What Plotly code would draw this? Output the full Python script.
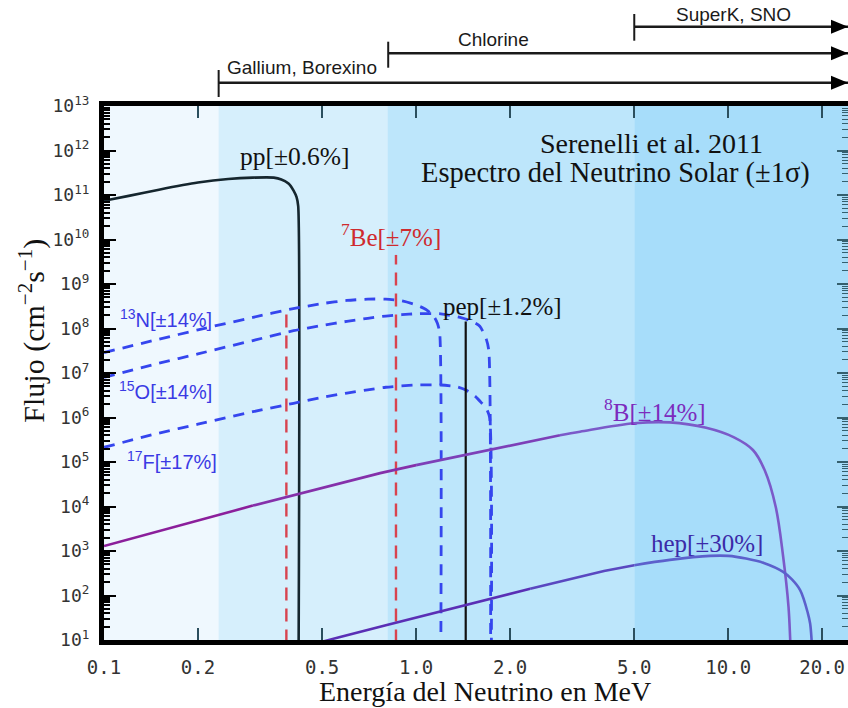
import plotly.graph_objects as go

# ---------------- data ----------------
# continuous spectra: energy (MeV) and log10 of flux
pp_E = [0.1, 0.12, 0.15, 0.2, 0.25, 0.3, 0.35, 0.37, 0.39, 0.405, 0.414, 0.419, 0.4199]
pp_logF = [10.87, 10.98, 11.12, 11.28, 11.36, 11.39, 11.39, 11.35, 11.26, 11.10, 10.95, 10.75, 0.0]

n13_E = [0.1, 0.15, 0.2, 0.3, 0.4, 0.5, 0.6, 0.7, 0.8, 0.9, 1.0, 1.08, 1.14, 1.17, 1.19, 1.199]
n13_logF = [7.46, 7.76, 7.97, 8.25, 8.44, 8.56, 8.63, 8.66, 8.66, 8.62, 8.53, 8.42, 8.27, 8.12, 7.9, 0.0]

o15_E = [0.1, 0.15, 0.2, 0.3, 0.405, 0.5, 0.6, 0.7, 0.8, 0.9, 1.0, 1.2, 1.4, 1.5, 1.6, 1.68, 1.71, 1.732]
o15_logF = [6.90, 7.22, 7.43, 7.73, 7.95, 8.07, 8.16, 8.23, 8.28, 8.31, 8.33, 8.33, 8.24, 8.17, 8.05, 7.75, 7.5, 0.0]

f17_E = [0.1, 0.15, 0.2, 0.3, 0.405, 0.5, 0.6, 0.7, 0.8, 1.0, 1.2, 1.35, 1.45, 1.55, 1.62, 1.68, 1.72, 1.74]
f17_logF = [5.33, 5.65, 5.85, 6.13, 6.32, 6.45, 6.55, 6.62, 6.68, 6.73, 6.73, 6.69, 6.61, 6.47, 6.33, 6.2, 6.0, 0.0]

b8_E = [0.1, 0.15, 0.2, 0.3, 0.5, 0.767, 1.0, 1.5, 2.0, 2.89, 3.35, 5.0, 6.5, 8.5, 10.4, 12.0, 13.1, 14.2, 15.0, 15.6, 15.8, 16.0]
b8_logF = [3.11, 3.44, 3.68, 4.02, 4.41, 4.75, 4.93, 5.18, 5.37, 5.60, 5.68, 5.87, 5.89, 5.77, 5.56, 5.27, 4.81, 3.99, 2.87, 1.75, 1.0, 0.0]

hep_E = [0.5, 0.571, 0.8, 1.0, 1.442, 2.32, 2.89, 4.0, 5.0, 6.5, 8.74, 10.0, 11.4, 13.0, 15.0, 16.0, 17.0, 18.0, 18.3, 18.5, 18.77]
hep_logF = [0.96, 1.07, 1.33, 1.50, 1.78, 2.15, 2.31, 2.55, 2.68, 2.80, 2.89, 2.89, 2.83, 2.73, 2.53, 2.36, 2.12, 1.6, 1.37, 1.0, 0.0]

# line sources
be7_E = [0.384, 0.862]
be7_F = [3.1e8, 4.5e9]
pep_E = [1.442]
pep_F = [1.44e8]

# detector thresholds / background bands
band_edges = [0.1, 0.233, 0.81, 5.0, 24.2]
band_colors = ["#eff8fe", "#d6effc", "#bde6fb", "#a7ddfa"]
det_names = ["Gallium, Borexino", "Chlorine", "SuperK, SNO"]
det_start = [0.233, 0.814, 5.0]

x_tickvals = [0.1, 0.2, 0.5, 1.0, 2.0, 5.0, 10.0, 20.0]
x_ticktext = ["0.1", "0.2", "0.5", "1.0", "2.0", "5.0", "10.0", "20.0"]
y_exps = list(range(1, 14))

# ---------------- layout helpers ----------------
W, H = 848, 708
L, R, T, B = 104, 0, 106, 68
PW, PH = W - L - R, H - T - B


def pxx(x):
    return (x - L) / PW


def pxy(y):
    return (H - B - y) / PH


def tolin(v):
    return [10 ** a for a in v]


SERIF = "Liberation Serif"
SANS = "Liberation Sans"
MONO = "DejaVu Sans Mono"

fig = go.Figure()


def add_line(x, y, color, width=2.6, dash=None, shape="spline", smoothing=0.6):
    fig.add_trace(go.Scatter(x=x, y=y, mode="lines",
                             line=dict(color=color, width=width, dash=dash, shape=shape, smoothing=smoothing),
                             showlegend=False, hoverinfo="skip"))


# pp
add_line(pp_E, tolin(pp_logF), "#15262e", 2.6)

# CNO (dashed blue)
blue = "#3546ee"
for E, lf in [(n13_E, n13_logF), (o15_E, o15_logF), (f17_E, f17_logF)]:
    add_line(E, tolin(lf), blue, 2.8, dash="11px,8px")

# 7Be lines
for e, f in zip(be7_E, be7_F):
    add_line([e, e], [1, f], "#d8434f", 2.4, dash="13px,8px", shape="linear")

# pep line
for e, f in zip(pep_E, pep_F):
    add_line([e, e], [1, f], "#111111", 2.2, shape="linear")


# 8B and hep with a colour gradient (split into consecutive pieces)
def add_gradient(E, lf, cuts, colors, width=2.6):
    n = len(colors)
    for k, ((a, b), c) in enumerate(zip(zip(cuts[:-1], cuts[1:]), colors)):
        last = k == n - 1
        add_line(E[a:b + 1], tolin(lf[a:b + 1]), c, width,
                 shape="spline" if last else "linear", smoothing=1.0)


add_gradient(b8_E, b8_logF, [0, 3, 6, 9, len(b8_E) - 1],
             ["#8b1f9b", "#8530aa", "#7d40b8", "#7b5ac9"])
add_gradient(hep_E, hep_logF, [0, 5, 8, len(hep_E) - 1],
             ["#5a2fb5", "#5a48c0", "#5c60cc"])

# dummy trace for right axis ticks
fig.add_trace(go.Scatter(x=[None], y=[None], yaxis="y2", showlegend=False, hoverinfo="skip"))

shapes = []
# background bands
for i, c in enumerate(band_colors):
    shapes.append(dict(type="rect", xref="x", yref="paper", x0=band_edges[i], x1=band_edges[i + 1],
                       y0=0, y1=1, fillcolor=c, line=dict(width=0), layer="below"))

# detector arrows above the plot
arrow_y = [82.7, 53.3, 26.7]
tick_span = [(70, 97), (41.7, 67.7), (14, 40.7)]
for s, ay, (t0, t1) in zip(det_start, arrow_y, tick_span):
    shapes.append(dict(type="line", xref="x", yref="paper", x0=s, x1=band_edges[-1],
                       y0=pxy(ay), y1=pxy(ay), line=dict(color="#1a1a1a", width=2.4)))
    shapes.append(dict(type="line", xref="x", yref="paper", x0=s, x1=s,
                       y0=pxy(t0), y1=pxy(t1), line=dict(color="#1a1a1a", width=2)))
    tip, base, hh = 848, 831, 7
    shapes.append(dict(type="path", xref="paper", yref="paper",
                       path=f"M {pxx(tip)} {pxy(ay)} L {pxx(base)} {pxy(ay - hh)} L {pxx(base)} {pxy(ay + hh)} Z",
                       fillcolor="#000000", line=dict(width=0)))

annotations = []


def ann(text, x, y, color="#111111", size=22, family=SERIF, **kw):
    annotations.append(dict(text=text, x=pxx(x), y=pxy(y), xref="paper", yref="paper",
                            showarrow=False, xanchor="center", yanchor="middle",
                            font=dict(family=family, size=size, color=color), **kw))


det_text_pos = [(301.7, 67.7), (493, 40), (733.5, 14)]
for name, (x, y) in zip(det_names, det_text_pos):
    ann(name, x, y, "#1a1a1a", 19, SANS)

ann("Serenelli et al. 2011", 651.7, 143.3, "#111111", 28)
ann("Espectro del Neutrino Solar (±1σ)", 615.8, 173.3, "#111111", 28.5)
ann("pp[±0.6%]", 295, 156.7, "#111111", 25.5)
ann("<sup>7</sup>Be[±7%]", 391, 235, "#cf2a2e", 25)
ann("pep[±1.2%]", 502.5, 306.7, "#111111", 25)
ann("<sup>8</sup>B[±14%]", 655, 410, "#7c2bbd", 25)
ann("hep[±30%]", 706.7, 543.3, "#3b2aa8", 25)
ann("<sup>13</sup>N[±14%]", 165.8, 318.3, "#3a3ae4", 20, SANS)
ann("<sup>15</sup>O[±14%]", 165.8, 390, "#3a3ae4", 20, SANS)
ann("<sup>17</sup>F[±17%]", 171.7, 460, "#3a3ae4", 20, SANS)
ann("Energía del Neutrino en MeV", 485, 691, "#111111", 28)
ann("Flujo (cm<sup>−2</sup>s<sup>−1</sup>)", 31.7, 331, "#111111", 30, textangle=-90)

y_tickvals = [10 ** e for e in y_exps]
y_ticktext = [f"10<sup>{e}</sup>" for e in y_exps]
y_minor = [k * 10 ** e for e in y_exps[:-1] for k in range(2, 10)]

fig.update_layout(
    width=W, height=H,
    margin=dict(l=L, r=R, t=T, b=B, pad=0),
    paper_bgcolor="white", plot_bgcolor=band_colors[0],
    shapes=shapes, annotations=annotations,
    xaxis=dict(type="log", range=[-1, 1.3838], tickmode="array", tickvals=x_tickvals, ticktext=x_ticktext,
               ticks="inside", ticklen=12, tickwidth=2, tickcolor="#2b4f5e",
               showline=True, linewidth=5, linecolor="black", mirror="ticks",
               showgrid=False, zeroline=False, ticklabelstandoff=6,
               tickfont=dict(family=MONO, size=19, color="#333333")),
    yaxis=dict(type="log", range=[1, 13], tickmode="array", tickvals=y_tickvals, ticktext=y_ticktext,
               ticks="inside", ticklen=12, tickwidth=2, tickcolor="black",
               minor=dict(tickmode="array", tickvals=y_minor, ticks="inside", ticklen=6, tickwidth=1.5,
                          tickcolor="black", showgrid=False),
               showline=True, linewidth=5, linecolor="black", mirror=False,
               showgrid=False, zeroline=False, ticklabelstandoff=6,
               tickfont=dict(family=MONO, size=18, color="#333333")),
    yaxis2=dict(type="log", range=[1, 13], overlaying="y", side="right", tickmode="array",
                tickvals=y_tickvals, showticklabels=False, ticks="inside", ticklen=11, tickwidth=2,
                tickcolor="#35606e",
                minor=dict(tickmode="array", tickvals=y_minor, ticks="inside", ticklen=6, tickwidth=1.2,
                           tickcolor="#35606e", showgrid=False),
                showline=False, showgrid=False, zeroline=False),
)

fig.write_html("out.html")
